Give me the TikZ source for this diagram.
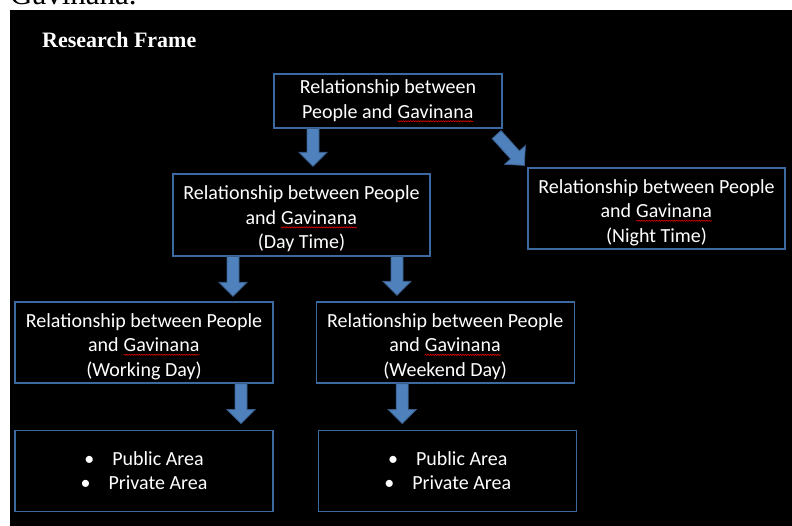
\documentclass[tikz,border=0pt]{standalone}
\usepackage{fontspec}
\setmainfont{Carlito}
\newfontfamily\timesfont{Liberation Serif}
\usetikzlibrary{positioning}
\usetikzlibrary{calc}
\usetikzlibrary{decorations.pathmorphing}
\definecolor{boxblue}{RGB}{60,105,160}
\definecolor{arrowfill}{RGB}{79,129,189}
\definecolor{arrowline}{RGB}{56,93,138}
\tikzset{
    box/.style = {rectangle, draw=boxblue, line width=1.2pt, text=white, align=center, inner sep=0pt, font=\fontsize{20}{24.4}\selectfont},
    bigbox/.style = {box, minimum width=258pt, minimum height=81pt},
    blockarrow/.style = {draw=arrowline, fill=arrowfill, line width=0.8pt, line join=miter},
    squig/.style = {draw=red, line width=0.5pt, decorate, decoration={snake, amplitude=0.6pt, segment length=2.5pt}},
}
% extra room above the first line of a three-line box
\newcommand\lift{\rule{0pt}{22pt}}
% red spell-check mark under a word
\newcommand\spellmark[1]{\tikz[baseline=(sp.base)]{\node[rectangle, draw=none, inner sep=0pt, minimum width=0pt, minimum height=0pt, text=white] (sp) {#1}; \draw[squig] ([yshift=-3pt]sp.base west) -- ([yshift=-3pt]sp.base east);}}
% block arrow from one named point to another
\newcommand\fatarrow[2]{%
  \path let \p1 = ($(#2)-(#1)$) in
    \pgfextra{%
      \pgfmathsetmacro\arrang{atan2(\y1,\x1)}\global\let\arrang\arrang
      \pgfmathsetmacro\arrlen{veclen(\x1,\y1)}\global\let\arrlen\arrlen};
  \draw[blockarrow, shift={(#1)}, rotate=\arrang]
    (0,-6) -- (\arrlen-14,-6) -- (\arrlen-14,-14) -- (\arrlen,0)
    -- (\arrlen-14,14) -- (\arrlen-14,6) -- (0,6) -- cycle;
}
\begin{document}
\begin{tikzpicture}[x=1pt, y=-1pt]
  \useasboundingbox (0,0) rectangle (792,526);
  \fill[white] (0,0) rectangle (792,526);
  \node[anchor=base west, inner sep=0pt, font=\timesfont\fontsize{31}{36}\selectfont] (cut) at (10,5) {Gavinana.};
  \fill[black] (10,10) rectangle (792,526);
  \node[anchor=base west, inner sep=0pt, text=white, font=\timesfont\bfseries\fontsize{22}{26}\selectfont] (title) at (42,48) {Research Frame};

  % boxes
  \node[box, minimum width=228pt, minimum height=54pt] (top) at (388,101) {Relationship between\\People and \spellmark{Gavinana}};
  \node[bigbox, minimum width=257pt, minimum height=82pt] (day) at (301.5,215) {\lift Relationship between People\\and \spellmark{Gavinana}\\(Day Time)};
  \node[bigbox, minimum width=257pt] (night) at (656.5,208.5) {\lift Relationship between People\\and \spellmark{Gavinana}\\(Night Time)};
  \node[bigbox] (work) at (144,342.5) {\lift Relationship between People\\and \spellmark{Gavinana}\\(Working Day)};
  \node[bigbox, right=42pt of work] (weekend) {\lift Relationship between People\\and \spellmark{Gavinana}\\(Weekend Day)};
  \node[bigbox, below=46pt of work] (areasA) {\textbullet\hspace{0.9em}Public Area\\\textbullet\hspace{0.9em}Private Area};
  \node[bigbox, below=46pt of weekend, xshift=2.5pt] (areasB) {\textbullet\hspace{0.9em}Public Area\\\textbullet\hspace{0.9em}Private Area};

  % arrows
  \coordinate (a1s) at ([xshift=-75pt]top.south);
  \coordinate (a1e) at ($(day.north -| a1s)+(0,-7)$);
  \coordinate (a2s) at ($(top.south east)+(-6,6)$);
  \coordinate (a2e) at ($(night.north west)+(-3,-2)$);
  \coordinate (a3s) at ([xshift=-68.5pt]day.south);
  \coordinate (a3e) at ($(work.north -| a3s)+(0,-5)$);
  \coordinate (a4s) at ([xshift=95.5pt]day.south);
  \coordinate (a4e) at ($(weekend.north -| a4s)+(0,-6)$);
  \coordinate (a5s) at ([xshift=97pt]work.south);
  \coordinate (a5e) at ($(areasA.north -| a5s)+(0,-6)$);
  \coordinate (a6s) at ([xshift=-43pt]weekend.south);
  \coordinate (a6e) at ($(areasB.north -| a6s)+(0,-6)$);
  \fatarrow{a1s}{a1e}
  \fatarrow{a2s}{a2e}
  \fatarrow{a3s}{a3e}
  \fatarrow{a4s}{a4e}
  \fatarrow{a5s}{a5e}
  \fatarrow{a6s}{a6e}
\end{tikzpicture}
\end{document}
